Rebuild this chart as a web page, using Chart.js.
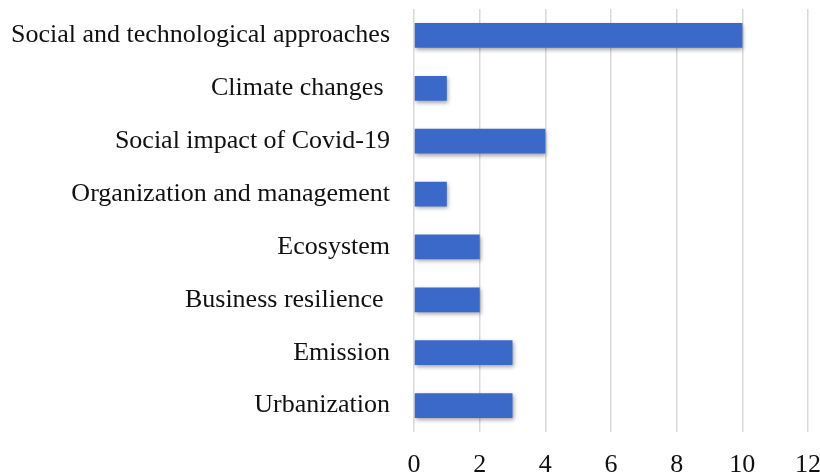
<!DOCTYPE html>
<html>
<head>
<meta charset="utf-8">
<script src="https://cdn.jsdelivr.net/npm/chart.js@4/dist/chart.umd.min.js"></script>
<style>
  html, body { margin: 0; padding: 0; background: #fff; }
  #wrap { width: 820px; height: 475px; }
</style>
</head>
<body>
<div id="wrap"><canvas id="topicChart" width="820" height="475"></canvas></div>
<script>
// data
var topics = [
    'Social and technological approaches',
    'Climate changes ',
    'Social impact of Covid-19',
    'Organization and management',
    'Ecosystem',
    'Business resilience ',
    'Emission',
    'Urbanization'
];
var counts = [10, 1, 4, 1, 2, 2, 3, 3];
var xTicks = [0, 2, 4, 6, 8, 10, 12];

// soft drop shadow under the bars
var barShadow = {
    id: 'barShadow',
    beforeDatasetsDraw: function(chart) {
        var ctx = chart.ctx;
        ctx.save();
        ctx.shadowColor = 'rgba(0,0,0,0.35)';
        ctx.shadowBlur = 4;
        ctx.shadowOffsetX = 1;
        ctx.shadowOffsetY = 2;
    },
    afterDatasetsDraw: function(chart) {
        chart.ctx.restore();
    }
};

var serif = '"Liberation Serif", "Times New Roman", serif';
var ctx = document.getElementById('topicChart').getContext('2d');

var topicChart = new Chart(ctx, {
    type: 'bar',
    data: {
        labels: topics,
        datasets: [{
            data: counts,
            backgroundColor: '#3b69c9',
            borderWidth: 0,
            barPercentage: 0.94,
            categoryPercentage: 0.5
        }]
    },
    options: {
        indexAxis: 'y',
        responsive: false,
        animation: false,
        layout: { padding: { top: 9, right: 12, left: 0, bottom: 0 } },
        plugins: {
            legend: { display: false },
            tooltip: { enabled: false }
        },
        scales: {
            x: {
                min: 0,
                max: 12,
                afterBuildTicks: function(scale) {
                    scale.ticks = xTicks.map(function(v) { return { value: v }; });
                },
                afterFit: function(scale) {
                    scale.height = 43;
                    scale.paddingLeft = 0;
                    scale.paddingRight = 0;
                },
                grid: { color: '#d9d9d9', lineWidth: 1.5, drawTicks: false },
                border: { display: false },
                ticks: {
                    color: '#111',
                    padding: 18,
                    font: { family: serif, size: 26 }
                }
            },
            y: {
                afterFit: function(scale) {
                    scale.width = 414;
                    scale.paddingTop = 0;
                    scale.paddingBottom = 0;
                },
                grid: { display: false },
                border: { display: false },
                ticks: {
                    color: '#111',
                    padding: 16,
                    font: { family: serif, size: 26 }
                }
            }
        }
    },
    plugins: [barShadow]
});
</script>
</body>
</html>
